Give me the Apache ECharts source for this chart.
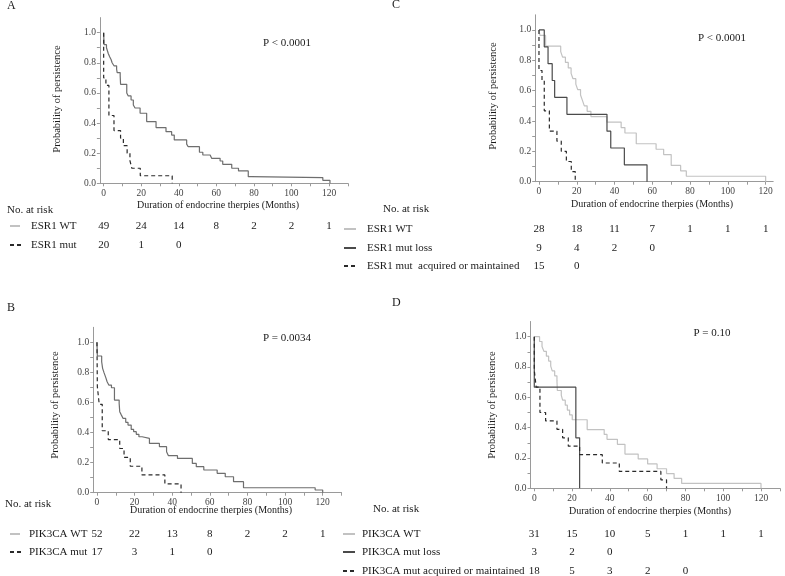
<!DOCTYPE html>
<html><head><meta charset="utf-8">
<script src="https://cdn.jsdelivr.net/npm/echarts@6/dist/echarts.min.js"></script>
<style>html,body{margin:0;padding:0;background:#fff}#c{width:785px;height:576px}</style>
</head><body><div id="c"></div>
<script>
// ---------- tick labels ----------
const xTickLabels = [0, 20, 40, 60, 80, 100, 120];
const xTicks130 = [0, 10, 20, 30, 40, 50, 60, 70, 80, 90, 100, 110, 120, 130];
const xTicks120 = [0, 10, 20, 30, 40, 50, 60, 70, 80, 90, 100, 110, 120];
const yTickLabels = [0, 0.2, 0.4, 0.6, 0.8, 1.0];
const yTicks = [0, 0.1, 0.2, 0.3, 0.4, 0.5, 0.6, 0.7, 0.8, 0.9, 1.0];
const riskMonths = [0, 20, 40, 60, 80, 100, 120];

// ---------- Panel A: ESR1 ----------
const aWT = [[0,1],[0.2,0.92],[1.5,0.9],[2,0.88],[2.5,0.86],[3.2,0.84],[4,0.82],[4.5,0.8],[5.5,0.78],[6.9,0.757],[7.2,0.735],[8.8,0.714],[9,0.657],[12.3,0.6],[13.1,0.58],[14.6,0.553],[15.8,0.52],[16.7,0.5],[19.4,0.465],[22.9,0.41],[27.9,0.37],[33.2,0.343],[36.2,0.32],[37.6,0.288],[44.2,0.26],[45,0.243],[51,0.206],[52.8,0.188],[56.7,0.177],[57.5,0.166],[62,0.148],[63.4,0.126],[68.2,0.1],[71.8,0.082],[77,0.044],[78.5,0.038],[116.7,0.02],[120.5,0]];
const aMut = [[0,1],[0,0.7],[1.2,0.65],[2.8,0.45],[5.5,0.35],[9,0.3],[10.5,0.25],[12.5,0.2],[14,0.15],[15,0.1],[19.5,0.05],[36.5,0]];
const aRiskWT = [49, 24, 14, 8, 2, 2, 1];
const aRiskMut = [20, 1, 0];

// ---------- Panel B: PIK3CA ----------
const bWT = [[0,1],[0.2,0.909],[2.5,0.871],[3,0.827],[3.7,0.8],[4.7,0.765],[5.4,0.738],[6.3,0.716],[7.7,0.698],[9.3,0.616],[11.8,0.594],[12.1,0.539],[13,0.516],[13.9,0.494],[15.3,0.468],[16.5,0.45],[18.2,0.421],[19.5,0.406],[20.9,0.388],[22.3,0.372],[24,0.361],[27.9,0.328],[33.2,0.306],[37,0.273],[38,0.246],[42.8,0.228],[50.7,0.195],[52.8,0.173],[56.8,0.151],[63.9,0.129],[68.2,0.106],[72.6,0.073],[77.9,0.033],[116,0.018],[120,0]];
const bMut = [[0,1],[0.2,0.706],[1.2,0.588],[2.8,0.412],[6,0.353],[12.1,0.294],[14.4,0.235],[17.7,0.176],[23.9,0.118],[36.1,0.059],[44.7,0]];
const bRiskWT = [52, 22, 13, 8, 2, 2, 1];
const bRiskMut = [17, 3, 1, 0];

// ---------- Panel C: ESR1 change ----------
const cWT = [[0,1],[0.5,0.964],[3.5,0.893],[11.5,0.857],[12.5,0.821],[14,0.786],[15.5,0.75],[17,0.714],[18,0.679],[19.5,0.643],[20.5,0.607],[22,0.571],[23,0.536],[24,0.5],[25.5,0.464],[27.5,0.429],[36,0.393],[43.5,0.357],[45.5,0.321],[51.5,0.25],[62,0.214],[66,0.179],[70,0.107],[75,0.071],[78,0.036],[120,0]];
const cLoss = [[0,1],[2.8,0.889],[4.8,0.778],[7,0.667],[8.3,0.556],[14.8,0.444],[36,0.333],[38,0.222],[45.2,0.111],[57.2,0]];
const cAcq = [[0,1],[0,0.733],[1.6,0.667],[2.8,0.467],[5.5,0.333],[9.5,0.267],[11.8,0.2],[14.5,0.133],[17.1,0.067],[19.2,0]];
const cRiskWT = [28, 18, 11, 7, 1, 1, 1];
const cRiskLoss = [9, 4, 2, 0];
const cRiskAcq = [15, 0];

// ---------- Panel D: PIK3CA change ----------
const dWT = [[0,1],[2.8,0.968],[4.1,0.935],[5.1,0.903],[6.4,0.871],[7.6,0.839],[8.7,0.806],[9.5,0.774],[10.8,0.742],[12,0.71],[12.2,0.645],[14.3,0.613],[15,0.581],[16.4,0.548],[17.5,0.516],[18.7,0.484],[20.1,0.452],[28,0.387],[37,0.355],[38.5,0.323],[44,0.29],[48,0.226],[55,0.194],[60,0.161],[65,0.129],[70,0.097],[74,0.065],[78,0.032],[120,0]];
const dLoss = [[0,1],[0,0.667],[22,0.333],[24,0]];
const dAcq = [[0,1],[0,0.778],[1,0.667],[3,0.5],[6,0.444],[12,0.389],[15,0.333],[18,0.278],[24,0.222],[36,0.167],[45,0.111],[67,0.056],[70,0]];
const dRiskWT = [31, 15, 10, 5, 1, 1, 1];
const dRiskLoss = [3, 2, 0];
const dRiskAcq = [18, 5, 3, 2, 0];

// ---------- styling ----------
const FONT = '"Liberation Serif","Times New Roman",serif';
const AX = '#9a9a9a';
const TXT = '#1a1a1a';
const C_LIGHT = '#c2c2c2', C_MID = '#6e6e6e', C_DARK = '#4a4a4a', C_DASH = '#2a2a2a';

const grids = [
  {left: 99.9, top: 17.6, width: 247.9, height: 165.7},   // A
  {left: 93.2, top: 327.3, width: 248.3, height: 165.4},  // B
  {left: 535.2, top: 14.8, width: 238, height: 166.9},    // C
  {left: 530.5, top: 321.5, width: 249.4, height: 166.8}  // D
];
const xMax = [130, 130, 124, 130];

function xAxisOf(i) {
  return {
    type: 'value', gridIndex: i, min: -2, max: xMax[i],
    axisLine: {show: true, onZero: false, lineStyle: {color: AX, width: 1}},
    axisTick: {show: true, length: 3, customValues: xMax[i] >= 130 ? xTicks130 : xTicks120, lineStyle: {color: AX}},
    axisLabel: {customValues: xTickLabels, fontFamily: FONT, fontSize: 9.5, color: '#444', margin: 5},
    splitLine: {show: false}
  };
}
function yAxisOf(i) {
  return {
    type: 'value', gridIndex: i, min: 0, max: 1.1,
    axisLine: {show: true, onZero: false, lineStyle: {color: AX, width: 1}},
    axisTick: {show: true, length: 3, customValues: yTicks, lineStyle: {color: AX}},
    axisLabel: {customValues: yTickLabels, formatter: v => v.toFixed(1), fontFamily: FONT, fontSize: 9.5, color: '#444', margin: 4},
    splitLine: {show: false}
  };
}
function km(i, data, color, dashed) {
  return {
    type: 'line', xAxisIndex: i, yAxisIndex: i, data: data, step: 'end',
    symbol: 'none', silent: true, animation: false,
    lineStyle: {color: color, width: 1.2, type: dashed ? [4, 3] : 'solid'}
  };
}

const chart = echarts.init(document.getElementById('c'), null, {renderer: 'canvas'});
chart.setOption({
  animation: false,
  backgroundColor: '#fff',
  grid: grids,
  xAxis: [0, 1, 2, 3].map(xAxisOf),
  yAxis: [0, 1, 2, 3].map(yAxisOf),
  series: [
    km(0, aWT, C_MID, false), km(0, aMut, C_DASH, true),
    km(1, bWT, C_MID, false), km(1, bMut, C_DASH, true),
    km(2, cWT, C_LIGHT, false), km(2, cLoss, C_DARK, false), km(2, cAcq, C_DASH, true),
    km(3, dWT, C_LIGHT, false), km(3, dLoss, C_DARK, false), km(3, dAcq, C_DASH, true)
  ]
});

// ---------- text overlay ----------
const g = [];
function txt(x, y, s, size, align, extra) {
  g.push(Object.assign({type: 'text', x: x, y: y, silent: true,
    style: {text: s, fontFamily: FONT, fontSize: size, fill: TXT, align: align || 'left', verticalAlign: 'middle'}}, extra || {}));
}
function sym(x1, x2, y, kind) {
  const st = kind === 'wt' ? {stroke: C_LIGHT, lineWidth: 2}
           : kind === 'loss' ? {stroke: C_DARK, lineWidth: 2}
           : {stroke: C_DASH, lineWidth: 2, lineDash: [4, 3]};
  g.push({type: 'line', silent: true, shape: {x1: x1, y1: y, x2: x2, y2: y}, style: st});
}
function riskRow(axisIdx, values, y) {
  values.forEach((v, k) => {
    const px = chart.convertToPixel({xAxisIndex: axisIdx}, riskMonths[k]);
    txt(px, y, String(v), 11, 'center');
  });
}
const rot = {rotation: Math.PI / 2};

// Panel A
txt(7, 6, 'A', 12);
txt(287, 43, 'P < 0.0001', 11, 'center');
txt(57.5, 99, 'Probability of persistence', 10.5, 'center', rot);
txt(218, 205, 'Duration of endocrine therpies (Months)', 10, 'center');
txt(7, 210, 'No. at risk', 11);
sym(10, 20, 226, 'wt'); txt(31, 226, 'ESR1 WT', 11);
sym(10, 22, 245, 'dash'); txt(31, 245, 'ESR1 mut', 11);
riskRow(0, aRiskWT, 226); riskRow(0, aRiskMut, 245);

// Panel C
txt(392, 5, 'C', 12);
txt(722, 38, 'P < 0.0001', 11, 'center');
txt(493, 96, 'Probability of persistence', 10.5, 'center', rot);
txt(652, 204, 'Duration of endocrine therpies (Months)', 10, 'center');
txt(383, 209, 'No. at risk', 11);
sym(344, 356, 229, 'wt'); txt(367, 229, 'ESR1 WT', 11);
sym(344, 356, 248, 'loss'); txt(367, 248, 'ESR1 mut loss', 11);
sym(344, 356, 266, 'dash'); txt(367, 266, 'ESR1 mut  acquired or maintained', 11);
riskRow(2, cRiskWT, 229); riskRow(2, cRiskLoss, 248); riskRow(2, cRiskAcq, 266);

// Panel B
txt(7, 308, 'B', 12);
txt(287, 338, 'P = 0.0034', 11, 'center');
txt(55, 405, 'Probability of persistence', 10.5, 'center', rot);
txt(211, 510, 'Duration of endocrine therpies (Months)', 10, 'center');
txt(5, 504, 'No. at risk', 11);
sym(10, 20, 534, 'wt'); txt(29, 534, 'PIK3CA WT', 11);
sym(10, 22, 552, 'dash'); txt(29, 552, 'PIK3CA mut', 11);
riskRow(1, bRiskWT, 534); riskRow(1, bRiskMut, 552);

// Panel D
txt(392, 303, 'D', 12);
txt(712, 333, 'P = 0.10', 11, 'center');
txt(492, 405, 'Probability of persistence', 10.5, 'center', rot);
txt(650, 511, 'Duration of endocrine therpies (Months)', 10, 'center');
txt(373, 509, 'No. at risk', 11);
sym(343, 355, 534, 'wt'); txt(362, 534, 'PIK3CA WT', 11);
sym(343, 355, 552, 'loss'); txt(362, 552, 'PIK3CA mut loss', 11);
sym(343, 355, 571, 'dash'); txt(362, 571, 'PIK3CA mut acquired or maintained', 11);
riskRow(3, dRiskWT, 534); riskRow(3, dRiskLoss, 552); riskRow(3, dRiskAcq, 571);

chart.setOption({graphic: g});
</script>
</body></html>
